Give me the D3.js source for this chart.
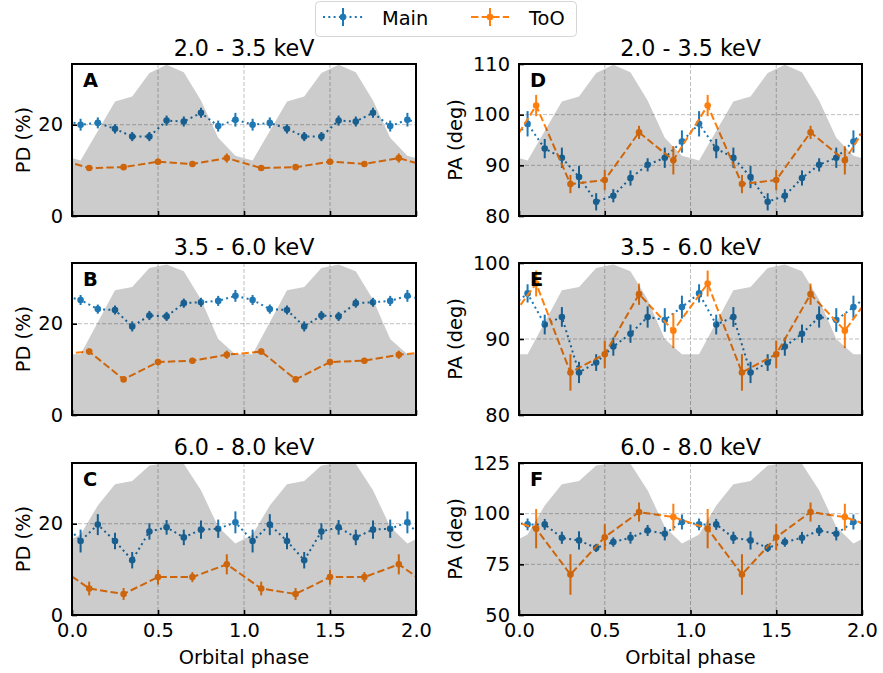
<!DOCTYPE html>
<html lang="en">
<head>
    <meta charset="UTF-8">
    <title>Polarization vs orbital phase</title>
    <style>
        body { margin: 0; background: #fff; }
        svg { display: block; }
        text { font-family: "DejaVu Sans", sans-serif; fill: #000; }
    </style>
</head>
<body>
    <svg width="883" height="673"></svg>
    <script src="https://d3js.org/d3.v7.min.js"></script>
    <script>
        // phase bins (two cycles plotted)
        const phaseMain = [0.05, 0.15, 0.25, 0.35, 0.45, 0.55, 0.65, 0.75, 0.85, 0.95,
                           1.05, 1.15, 1.25, 1.35, 1.45, 1.55, 1.65, 1.75, 1.85, 1.95];
        const phaseToO = [0.1, 0.3, 0.5, 0.7, 0.9, 1.1, 1.3, 1.5, 1.7, 1.9];
        const xTicks = [0, 0.5, 1, 1.5, 2];

        // normalized light curves per band (background shading)
        const lc2to35 = [0.365, 0.56, 0.754, 0.787, 0.94, 0.995, 0.945, 0.76, 0.515, 0.397,
                         0.365, 0.56, 0.754, 0.787, 0.94, 0.995, 0.945, 0.76, 0.515, 0.397];
        const lc35to6 = [0.40, 0.61, 0.82, 0.842, 0.967, 0.99, 0.945, 0.76, 0.50, 0.40,
                         0.40, 0.61, 0.82, 0.842, 0.967, 0.99, 0.945, 0.76, 0.50, 0.40];
        const lc6to8 = [0.53, 0.72, 0.86, 0.882, 0.983, 1.0, 0.995, 0.82, 0.58, 0.47,
                        0.53, 0.72, 0.86, 0.882, 0.983, 1.0, 0.995, 0.82, 0.58, 0.47];

        // PD (%) 2.0 - 3.5 keV
        const pdMainA = [20.0, 20.4, 19.1, 17.4, 17.4, 20.9, 20.7, 22.6, 19.7, 21.1,
                         20.0, 20.4, 19.1, 17.4, 17.4, 20.9, 20.7, 22.6, 19.7, 21.1];
        const pdMainAErr = [1.3, 1.2, 1.0, 1.0, 1.0, 1.1, 1.1, 1.1, 1.2, 1.5,
                            1.3, 1.2, 1.0, 1.0, 1.0, 1.1, 1.1, 1.1, 1.2, 1.5];
        const pdTooA = [10.5, 10.7, 11.9, 11.4, 12.7, 10.5, 10.7, 11.9, 11.4, 12.7];
        const pdTooAErr = [0.6, 0.6, 0.7, 0.6, 1.0, 0.6, 0.6, 0.7, 0.6, 1.0];

        // PD (%) 3.5 - 6.0 keV
        const pdMainB = [25.2, 23.2, 23.0, 19.4, 21.8, 21.6, 24.5, 24.7, 25.0, 26.1,
                         25.2, 23.2, 23.0, 19.4, 21.8, 21.6, 24.5, 24.7, 25.0, 26.1];
        const pdMainBErr = [1.1, 1.0, 1.0, 1.1, 1.0, 1.0, 1.0, 1.0, 1.1, 1.3,
                            1.1, 1.0, 1.0, 1.1, 1.0, 1.0, 1.0, 1.0, 1.1, 1.3];
        const pdTooB = [13.9, 7.8, 11.6, 11.9, 13.2, 13.9, 7.8, 11.6, 11.9, 13.2];
        const pdTooBErr = [0.7, 0.6, 0.7, 0.6, 0.9, 0.7, 0.6, 0.7, 0.6, 0.9];

        // PD (%) 6.0 - 8.0 keV
        const pdMainC = [16.2, 19.8, 16.2, 12.0, 18.3, 19.2, 17.0, 18.7, 18.9, 20.3,
                         16.2, 19.8, 16.2, 12.0, 18.3, 19.2, 17.0, 18.7, 18.9, 20.3];
        const pdMainCErr = [2.5, 2.3, 1.8, 1.8, 1.8, 1.6, 1.7, 2.0, 2.0, 2.4,
                            2.5, 2.3, 1.8, 1.8, 1.8, 1.6, 1.7, 2.0, 2.0, 2.4];
        const pdTooC = [5.8, 4.6, 8.3, 8.3, 11.1, 5.8, 4.6, 8.3, 8.3, 11.1];
        const pdTooCErr = [1.5, 1.3, 1.6, 1.1, 2.2, 1.5, 1.3, 1.6, 1.1, 2.2];

        // PA (deg) 2.0 - 3.5 keV
        const paMainD = [98.2, 93.3, 91.5, 87.7, 82.8, 84.0, 87.5, 90.1, 91.5, 94.7,
                         98.2, 93.3, 91.5, 87.7, 82.8, 84.0, 87.5, 90.1, 91.5, 94.7];
        const paMainDErr = [2.5, 1.9, 2.0, 2.2, 1.7, 1.3, 1.5, 1.3, 2.0, 2.2,
                            2.5, 1.9, 2.0, 2.2, 1.7, 1.3, 1.5, 1.3, 2.0, 2.2];
        const paTooD = [101.8, 86.3, 87.1, 96.5, 91.0, 101.8, 86.3, 87.1, 96.5, 91.0];
        const paTooDErr = [2.1, 1.8, 2.0, 1.3, 2.8, 2.1, 1.8, 2.0, 1.3, 2.8];

        // PA (deg) 3.5 - 6.0 keV
        const paMainE = [96.0, 91.9, 92.9, 85.6, 86.9, 89.0, 90.7, 92.9, 92.5, 94.2,
                         96.0, 91.9, 92.9, 85.6, 86.9, 89.0, 90.7, 92.9, 92.5, 94.2];
        const paMainEErr = [1.2, 1.3, 1.3, 1.4, 1.1, 1.2, 1.2, 1.4, 1.55, 1.5,
                            1.2, 1.3, 1.3, 1.4, 1.1, 1.2, 1.2, 1.4, 1.55, 1.5];
        const paTooE = [97.3, 85.6, 88.0, 95.9, 91.1, 97.3, 85.6, 88.0, 95.9, 91.1];
        const paTooEErr = [1.7, 2.4, 1.8, 1.4, 2.3, 1.7, 2.4, 1.8, 1.4, 2.3];

        // PA (deg) 6.0 - 8.0 keV
        const paMainF = [94.7, 94.7, 88.1, 86.8, 83.1, 86.0, 88.1, 91.7, 90.1, 95.9,
                         94.7, 94.7, 88.1, 86.8, 83.1, 86.0, 88.1, 91.7, 90.1, 95.9];
        const paMainFErr = [2.9, 2.7, 3.0, 4.5, 2.0, 2.3, 2.9, 2.7, 3.3, 3.7,
                            2.9, 2.7, 3.0, 4.5, 2.0, 2.3, 2.9, 2.7, 3.3, 3.7];
        const paTooF = [92.6, 70.0, 88.4, 100.8, 98.3, 92.6, 70.0, 88.4, 100.8, 98.3];
        const paTooFErr = [9.7, 10.0, 6.4, 4.7, 6.6, 9.7, 10.0, 6.4, 4.7, 6.6];

        const blue = "#1f77b4";
        const orange = "#ff7f0e";
        const svg = d3.select("svg");
        const cols = [{ x: 72, w: 344 }, { x: 519, w: 343 }];
        const rows = [64, 263, 463];
        const ph = 152;

        const panels = [
            { id: "A", col: 0, row: 0, title: "2.0 - 3.5 keV", ylabel: "PD (%)", ydom: [0, 33.3], yticks: [0, 20],
              main: pdMainA, mainErr: pdMainAErr, too: pdTooA, tooErr: pdTooAErr, lc: lc2to35 },
            { id: "B", col: 0, row: 1, title: "3.5 - 6.0 keV", ylabel: "PD (%)", ydom: [0, 33.3], yticks: [0, 20],
              main: pdMainB, mainErr: pdMainBErr, too: pdTooB, tooErr: pdTooBErr, lc: lc35to6 },
            { id: "C", col: 0, row: 2, title: "6.0 - 8.0 keV", ylabel: "PD (%)", ydom: [0, 33.3], yticks: [0, 20],
              main: pdMainC, mainErr: pdMainCErr, too: pdTooC, tooErr: pdTooCErr, lc: lc6to8 },
            { id: "D", col: 1, row: 0, title: "2.0 - 3.5 keV", ylabel: "PA (deg)", ydom: [80, 110], yticks: [80, 90, 100, 110],
              main: paMainD, mainErr: paMainDErr, too: paTooD, tooErr: paTooDErr, lc: lc2to35 },
            { id: "E", col: 1, row: 1, title: "3.5 - 6.0 keV", ylabel: "PA (deg)", ydom: [80, 100], yticks: [80, 90, 100],
              main: paMainE, mainErr: paMainEErr, too: paTooE, tooErr: paTooEErr, lc: lc35to6 },
            { id: "F", col: 1, row: 2, title: "6.0 - 8.0 keV", ylabel: "PA (deg)", ydom: [50, 125], yticks: [50, 75, 100, 125],
              main: paMainF, mainErr: paMainFErr, too: paTooF, tooErr: paTooFErr, lc: lc6to8 }
        ];

        // continue a periodic series past both ends so the line reaches the frame
        function wrap(xs, ys) {
            const pts = xs.map((v, i) => [v, ys[i]]);
            const n = pts.length;
            return [[xs[n - 1] - 2, ys[n - 1]], ...pts, [xs[0] + 2, ys[0]]];
        }

        panels.forEach((p, i) => {
            const x0 = cols[p.col].x, w = cols[p.col].w, y0 = rows[p.row];
            const x = d3.scaleLinear().domain([0, 2]).range([x0, x0 + w]);
            const y = d3.scaleLinear().domain(p.ydom).range([y0 + ph, y0]);
            const yl = d3.scaleLinear().domain([0, 1]).range([y0 + ph, y0]);
            const g = svg.append("g");

            g.append("clipPath").attr("id", "clip" + i)
                .append("rect").attr("x", x0).attr("y", y0).attr("width", w).attr("height", ph);
            const inner = g.append("g").attr("clip-path", `url(#clip${i})`);

            // grid
            inner.selectAll(".gx").data(xTicks.slice(1, -1)).enter().append("line")
                .attr("x1", d => x(d)).attr("x2", d => x(d))
                .attr("y1", y0).attr("y2", y0 + ph)
                .attr("stroke", "#808080").attr("stroke-opacity", 0.5)
                .attr("stroke-width", 1).attr("stroke-dasharray", "4,2");
            inner.selectAll(".gy").data(p.yticks.filter(t => t > p.ydom[0] && t < p.ydom[1])).enter().append("line")
                .attr("y1", d => y(d)).attr("y2", d => y(d))
                .attr("x1", x0).attr("x2", x0 + w)
                .attr("stroke", "#808080").attr("stroke-opacity", 0.5)
                .attr("stroke-width", 1).attr("stroke-dasharray", "4,2");

            const line = d3.line().x(d => x(d[0])).y(d => y(d[1]));
            const series = [
                { xs: phaseMain, v: p.main, e: p.mainErr, color: blue, dash: "2,3.3" },
                { xs: phaseToO, v: p.too, e: p.tooErr, color: orange, dash: "7.4,3.2" }
            ];
            series.forEach(s => {
                inner.append("path")
                    .attr("d", line(wrap(s.xs, s.v)))
                    .attr("fill", "none").attr("stroke", s.color)
                    .attr("stroke-width", 2).attr("stroke-dasharray", s.dash);
                inner.append("g").selectAll("line").data(s.xs).enter().append("line")
                    .attr("x1", d => x(d)).attr("x2", d => x(d))
                    .attr("y1", (d, j) => y(s.v[j] - s.e[j]))
                    .attr("y2", (d, j) => y(s.v[j] + s.e[j]))
                    .attr("stroke", s.color).attr("stroke-width", 2);
                inner.append("g").selectAll("circle").data(s.xs).enter().append("circle")
                    .attr("cx", d => x(d)).attr("cy", (d, j) => y(s.v[j]))
                    .attr("r", 3.3).attr("fill", s.color);
            });

            // light curve shading on top
            const area = d3.area().x(d => x(d[0])).y0(y0 + ph).y1(d => yl(d[1]));
            inner.append("path")
                .attr("d", area(wrap(phaseMain, p.lc)))
                .attr("fill", "#000").attr("fill-opacity", 0.2);

            // axes with inward ticks
            const xAxis = d3.axisBottom(x).tickValues(xTicks).tickSize(-5).tickPadding(8)
                .tickFormat(p.row === 2 ? d3.format(".1f") : "");
            const gx = g.append("g").attr("transform", `translate(0,${y0 + ph})`).call(xAxis);
            const yAxis = d3.axisLeft(y).tickValues(p.yticks).tickSize(-5).tickPadding(9);
            const gy = g.append("g").attr("transform", `translate(${x0},0)`).call(yAxis);
            [gx, gy].forEach(a => {
                a.select(".domain").remove();
                a.selectAll(".tick line").attr("stroke", "#000").attr("stroke-width", 1.6);
                a.selectAll("text").attr("font-family", "DejaVu Sans").attr("font-size", 19.4).attr("fill", "#000");
            });

            g.append("rect").attr("x", x0).attr("y", y0).attr("width", w).attr("height", ph)
                .attr("fill", "none").attr("stroke", "#000").attr("stroke-width", 2);

            g.append("text").attr("x", x0 + 11).attr("y", y0 + 22.5)
                .attr("font-size", 19.4).attr("font-weight", "bold").text(p.id);
            g.append("text").attr("x", x0 + w / 2).attr("y", y0 - 8)
                .attr("text-anchor", "middle").attr("font-size", 22.2).text(p.title);
            const lx = p.col === 0 ? 30 : 462;
            g.append("text")
                .attr("transform", `translate(${lx},${y0 + ph / 2}) rotate(-90)`)
                .attr("text-anchor", "middle").attr("font-size", 19.4).text(p.ylabel);
            if (p.row === 2) {
                g.append("text").attr("x", x0 + w / 2).attr("y", 664)
                    .attr("text-anchor", "middle").attr("font-size", 19.4).text("Orbital phase");
            }
        });

        // legend
        const legend = svg.append("g");
        legend.append("rect").attr("x", 315.5).attr("y", 1.5).attr("width", 261).attr("height", 35)
            .attr("rx", 4).attr("fill", "#fff").attr("stroke", "#d5d5d5").attr("stroke-width", 1);
        const items = [
            { label: "Main", color: blue, dash: "2,3.3", x1: 323, x2: 363, tx: 382 },
            { label: "ToO", color: orange, dash: "7.4,3.2", x1: 471, x2: 509, tx: 529 }
        ];
        items.forEach(it => {
            const cx = (it.x1 + it.x2) / 2;
            legend.append("line").attr("x1", it.x1).attr("x2", it.x2).attr("y1", 17).attr("y2", 17)
                .attr("stroke", it.color).attr("stroke-width", 2).attr("stroke-dasharray", it.dash);
            legend.append("line").attr("x1", cx).attr("x2", cx).attr("y1", 8).attr("y2", 26)
                .attr("stroke", it.color).attr("stroke-width", 2);
            legend.append("circle").attr("cx", cx).attr("cy", 17).attr("r", 3.3).attr("fill", it.color);
            legend.append("text").attr("x", it.tx).attr("y", 24.5).attr("font-size", 19.4).text(it.label);
        });
    </script>
</body>
</html>
